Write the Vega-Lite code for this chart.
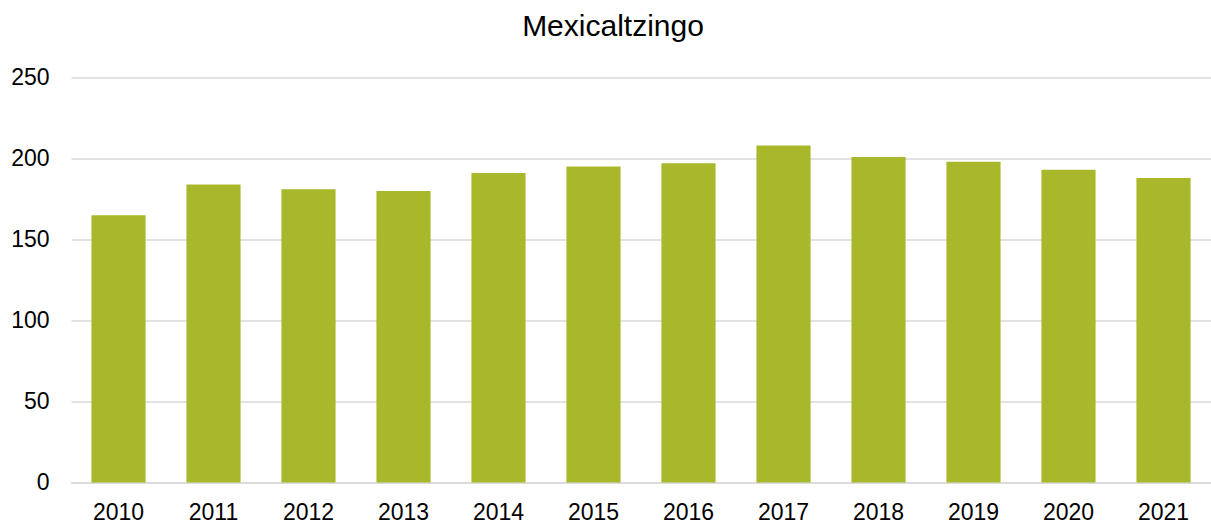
{
  "$schema": "https://vega.github.io/schema/vega-lite/v6.json",
  "width": 1140,
  "height": 405,
  "autosize": {"type": "none"},
  "padding": {"left": 71, "top": 77.5, "right": 0, "bottom": 42.5},
  "background": "white",
  "title": {
    "text": "Mexicaltzingo",
    "anchor": "middle",
    "frame": "group",
    "dx": -28,
    "offset": -5,
    "baseline": "bottom",
    "font": "Liberation Sans",
    "fontSize": 30,
    "fontWeight": "normal",
    "color": "#000000"
  },
  "data": {
    "values": [
      {"year": "2010", "value": 165},
      {"year": "2011", "value": 184},
      {"year": "2012", "value": 181},
      {"year": "2013", "value": 180},
      {"year": "2014", "value": 191},
      {"year": "2015", "value": 195},
      {"year": "2016", "value": 197},
      {"year": "2017", "value": 208},
      {"year": "2018", "value": 201},
      {"year": "2019", "value": 198},
      {"year": "2020", "value": 193},
      {"year": "2021", "value": 188}
    ]
  },
  "mark": {"type": "bar", "color": "#A8B82A"},
  "encoding": {
    "x": {
      "field": "year",
      "type": "nominal",
      "scale": {"paddingInner": 0.43, "paddingOuter": 0.215},
      "axis": {
        "title": null,
        "labelAngle": 0,
        "labelFont": "Liberation Sans",
        "labelFontSize": 23,
        "labelColor": "#000000",
        "labelPadding": 19,
        "labelBaseline": "top",
        "ticks": false,
        "domain": true,
        "domainColor": "#d9d9d9",
        "domainWidth": 1.5,
        "grid": false
      }
    },
    "y": {
      "field": "value",
      "type": "quantitative",
      "scale": {"domain": [0, 250], "nice": false},
      "axis": {
        "title": null,
        "values": [0, 50, 100, 150, 200, 250],
        "labelFont": "Liberation Sans",
        "labelFontSize": 23,
        "labelColor": "#000000",
        "labelPadding": 22,
        "ticks": false,
        "domain": false,
        "grid": true,
        "gridColor": "#d9d9d9",
        "gridWidth": 1.5
      }
    }
  },
  "config": {"view": {"stroke": null}}
}
